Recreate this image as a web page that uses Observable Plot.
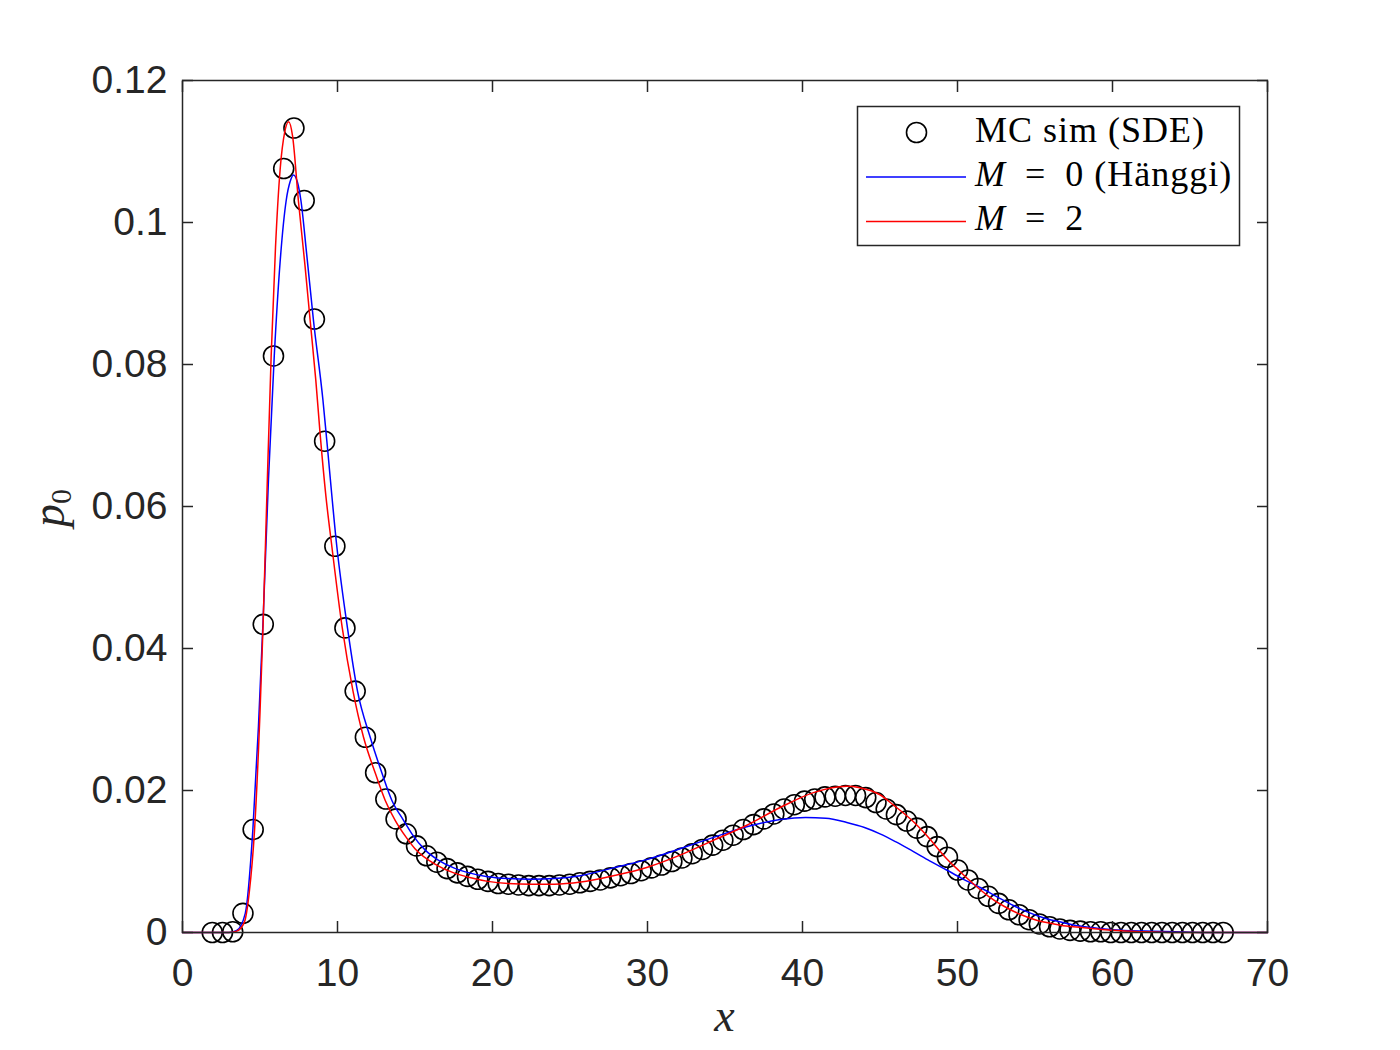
<!DOCTYPE html>
<html><head><meta charset="utf-8">
<script src="https://cdn.jsdelivr.net/npm/d3@7"></script>
<script src="https://cdn.jsdelivr.net/npm/@observablehq/plot@0.6"></script>
<style>html,body{margin:0;padding:0;background:#fff;overflow:hidden}</style>
</head><body><div id="chart"></div>
<script>
// MC simulation (SDE) histogram points
const circleX = [1.92, 2.58, 3.24, 3.90, 4.56, 5.21, 5.87, 6.53, 7.19, 7.85,
  8.51, 9.17, 9.83, 10.48, 11.14, 11.80, 12.46, 13.12, 13.78, 14.44,
  15.10, 15.75, 16.41, 17.07, 17.73, 18.39, 19.05, 19.71, 20.37, 21.03,
  21.68, 22.34, 23.00, 23.66, 24.32, 24.98, 25.64, 26.30, 26.95, 27.61,
  28.27, 28.93, 29.59, 30.25, 30.91, 31.57, 32.22, 32.88, 33.54, 34.20,
  34.86, 35.52, 36.18, 36.84, 37.50, 38.15, 38.81, 39.47, 40.13, 40.79,
  41.45, 42.11, 42.77, 43.42, 44.08, 44.74, 45.40, 46.06, 46.72, 47.38,
  48.04, 48.69, 49.35, 50.01, 50.67, 51.33, 51.99, 52.65, 53.31, 53.97,
  54.62, 55.28, 55.94, 56.60, 57.26, 57.92, 58.58, 59.24, 59.89, 60.55,
  61.21, 61.87, 62.53, 63.19, 63.85, 64.51, 65.16, 65.82, 66.48, 67.14];
const circleY = [0, 0, 0.0001, 0.0027, 0.0145, 0.0434, 0.0812, 0.1076, 0.1133, 0.1031,
  0.0864, 0.0692, 0.0544, 0.0429, 0.0340, 0.0275, 0.0225, 0.0188, 0.0160, 0.0139,
  0.0122, 0.0108, 0.0099, 0.0090, 0.0084, 0.0079, 0.0075, 0.0072, 0.0069, 0.0068,
  0.0067, 0.0066, 0.0066, 0.0066, 0.0067, 0.0068, 0.0070, 0.0072, 0.0074, 0.0077,
  0.0080, 0.0083, 0.0087, 0.0091, 0.0095, 0.0100, 0.0105, 0.0111, 0.0117, 0.0123,
  0.0130, 0.0137, 0.0145, 0.0152, 0.0160, 0.0167, 0.0174, 0.0180, 0.0185, 0.0188,
  0.0191, 0.0192, 0.0193, 0.0193, 0.0190, 0.0183, 0.0174, 0.0166, 0.0157, 0.0147,
  0.0135, 0.0121, 0.0106, 0.0088, 0.0074, 0.0062, 0.0051, 0.0041, 0.0032, 0.0025,
  0.0018, 0.0012, 0.0008, 0.0005, 0.0003, 0.0002, 0.0001, 0.0001, 0, 0,
  0, 0, 0, 0, 0, 0, 0, 0, 0, 0];

// M = 0 (Hänggi) curve
const m0X = [0, 3.0, 3.5, 4.05, 4.54, 4.9, 5.2, 5.55, 5.92, 6.3, 6.69, 6.95, 7.16, 7.4, 7.64, 8.0, 8.45, 9.06, 9.3, 9.96,
  10.65, 11.29, 12.11, 12.86, 13.51, 14.26, 14.8, 15.66, 16.5, 17.5, 18.5, 19.6, 21.0, 22.5, 24.0, 25.66, 27.8, 30.0, 32.1, 34.26,
  36.4, 38.56, 40.2, 41.5, 42.86, 44.0, 45.0, 46.0, 47.16, 48.2, 49.3, 50.3, 51.5, 52.5, 53.6, 54.5, 55.8, 56.6, 57.9, 59.0,
  60.0, 62.0, 64.0, 66.0, 70.0];
const m0Y = [0, 0, 0.0003, 0.0027, 0.0145, 0.029, 0.044, 0.064, 0.0812, 0.0945, 0.1031, 0.1058, 0.1067, 0.1058, 0.1031, 0.0958, 0.0862, 0.0750, 0.0695, 0.0543,
  0.0428, 0.0340, 0.0275, 0.0225, 0.0186, 0.0158, 0.0139, 0.0116, 0.0102, 0.0091, 0.0084, 0.0079, 0.0076, 0.0075, 0.0076, 0.0080, 0.0091, 0.0103, 0.0118, 0.0134,
  0.0149, 0.0159, 0.0162, 0.0161, 0.0155, 0.0148, 0.0139, 0.0128, 0.0114, 0.0101, 0.0088, 0.0076, 0.0063, 0.0051, 0.0038, 0.0029, 0.0019, 0.0015, 0.0009, 0.0006,
  0.0004, 0.0002, 0.0001, 0, 0];

// M = 2 curve
const m2X = [0, 3.0, 3.5, 4.0, 4.3, 4.65, 5.0, 5.2, 5.45, 5.72, 6.0, 6.3, 6.6, 6.85, 7.1, 7.48, 7.9, 8.24, 8.6, 8.88,
  9.25, 9.64, 10.3, 11.0, 11.68, 12.43, 13.08, 13.72, 14.4, 15.0, 16.4, 17.5, 18.6, 19.7, 21.0, 22.5, 24.0, 25.7, 27.8, 30.0,
  32.1, 34.26, 36.41, 38.56, 40.71, 42.86, 43.7, 45.0, 45.9, 47.16, 48.0, 49.3, 50.1, 51.0, 52.0, 53.0, 54.0, 55.0, 56.0, 57.0,
  58.0, 59.0, 60.0, 62.0, 64.0, 70.0];
const m2Y = [0, 0, 0.0002, 0.0015, 0.0055, 0.0145, 0.031, 0.0434, 0.062, 0.0812, 0.0965, 0.1075, 0.1128, 0.1142, 0.1122, 0.1030, 0.0940, 0.0861, 0.0778, 0.0702,
  0.0615, 0.0543, 0.0430, 0.0340, 0.0275, 0.0225, 0.0186, 0.0158, 0.0135, 0.0118, 0.0095, 0.0084, 0.0077, 0.0072, 0.0069, 0.0068, 0.0068, 0.0071, 0.0080, 0.0092,
  0.0109, 0.0130, 0.0151, 0.0176, 0.0197, 0.0206, 0.0204, 0.0194, 0.0179, 0.0156, 0.0137, 0.0104, 0.0087, 0.0069, 0.0051, 0.0037, 0.0026, 0.0018, 0.0013, 0.0009,
  0.0007, 0.0005, 0.0003, 0.0001, 0, 0];

const xTicks = [0, 10, 20, 30, 40, 50, 60, 70];
const yTicks = [0, 0.02, 0.04, 0.06, 0.08, 0.1, 0.12];
const yTickLabels = ["0", "0.02", "0.04", "0.06", "0.08", "0.1", "0.12"];

const circleData = circleX.map((x, i) => ({x, y: circleY[i]}));
const m0Data = m0X.map((x, i) => ({x, y: m0Y[i]}));
const m2Data = m2X.map((x, i) => ({x, y: m2Y[i]}));

const axisColor = "#262626";
const tickOpts = {tickSize: -11, tickFormat: () => "", stroke: axisColor, strokeWidth: 1.5, label: null};

const chart = Plot.plot({
  width: 1400, height: 1050,
  marginLeft: 182, marginRight: 133, marginTop: 80, marginBottom: 118,
  style: {background: "#fff", fontFamily: "'Liberation Sans', Arial, sans-serif", fontSize: "39px", color: axisColor},
  x: {domain: [0, 70], label: null},
  y: {domain: [0, 0.12], label: null},
  marks: [
    Plot.dot(circleData, {x: "x", y: "y", r: 10, stroke: "#000", strokeWidth: 1.6, fill: "none"}),
    Plot.line(m0Data, {x: "x", y: "y", stroke: "#0000ff", strokeWidth: 1.5, curve: "monotone-x"}),
    Plot.line(m2Data, {x: "x", y: "y", stroke: "#ff0000", strokeWidth: 1.5, curve: "monotone-x"}),
    Plot.frame({stroke: axisColor, strokeWidth: 1.5}),
    Plot.axisX(xTicks, {anchor: "bottom", ...tickOpts}),
    Plot.axisX(xTicks, {anchor: "top", ...tickOpts}),
    Plot.axisY(yTicks, {anchor: "left", ...tickOpts}),
    Plot.axisY(yTicks, {anchor: "right", ...tickOpts}),
    Plot.axisX(xTicks, {anchor: "bottom", tickSize: 0, tickPadding: 26, tickFormat: d => String(d), fill: axisColor, label: null}),
    Plot.axisY(yTicks, {anchor: "left", tickSize: 0, tickPadding: 15, tickFormat: d => yTickLabels[yTicks.indexOf(d)], fill: axisColor, label: null})
  ]
});
document.getElementById("chart").appendChild(chart);

// Axis labels and legend (LaTeX-style serif)
const svg = d3.select(chart);
const serif = "'Liberation Serif', 'DejaVu Serif', serif";
svg.append("text").attr("x", 724.5).attr("y", 1031).attr("text-anchor", "middle")
  .attr("font-family", serif).attr("font-style", "italic").attr("font-size", 46).attr("fill", axisColor).text("x");
const yl = svg.append("text").attr("transform", "translate(64,508) rotate(-90)").attr("text-anchor", "middle")
  .attr("font-family", serif).attr("font-size", 46).attr("fill", axisColor);
yl.append("tspan").attr("font-style", "italic").text("p");
yl.append("tspan").attr("font-size", 30).attr("dy", 7).text("0");

const lg = svg.append("g");
lg.append("rect").attr("x", 857.5).attr("y", 106.5).attr("width", 382).attr("height", 139)
  .attr("fill", "#fff").attr("stroke", axisColor).attr("stroke-width", 1.5);
lg.append("circle").attr("cx", 916.5).attr("cy", 132.5).attr("r", 10)
  .attr("fill", "none").attr("stroke", "#000").attr("stroke-width", 1.6);
lg.append("line").attr("x1", 866).attr("x2", 966).attr("y1", 177).attr("y2", 177)
  .attr("stroke", "#0000ff").attr("stroke-width", 1.5);
lg.append("line").attr("x1", 866).attr("x2", 966).attr("y1", 221.5).attr("y2", 221.5)
  .attr("stroke", "#ff0000").attr("stroke-width", 1.5);
const legendText = (y) => lg.append("text").attr("x", 975).attr("y", y).attr("text-anchor", "start")
  .attr("font-family", serif).attr("font-size", 36).attr("letter-spacing", 1).attr("fill", "#000");
legendText(142).text("MC sim (SDE)");
const t2 = legendText(186); t2.append("tspan").attr("font-style", "italic").text("M"); t2.append("tspan").text("\u2002=\u20020 (Hänggi)");
const t3 = legendText(230); t3.append("tspan").attr("font-style", "italic").text("M"); t3.append("tspan").text("\u2002=\u20022");
</script>
</body></html>
